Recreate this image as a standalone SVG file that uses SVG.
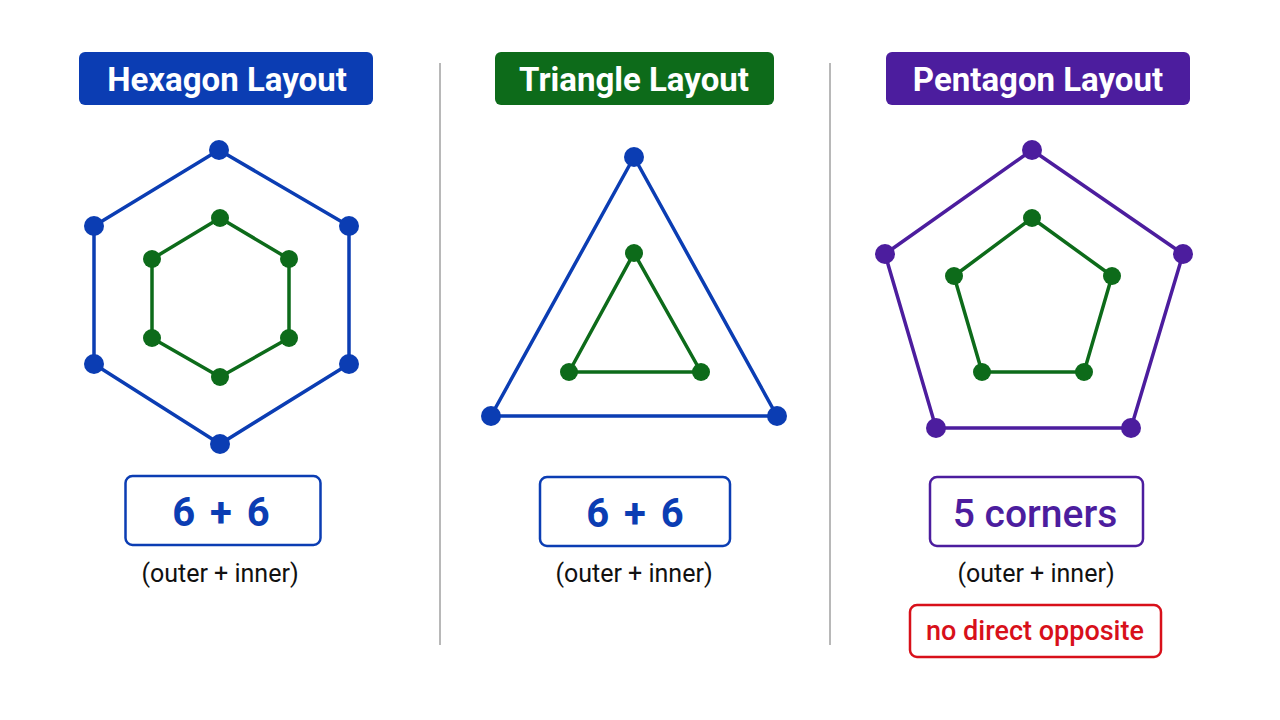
<svg xmlns="http://www.w3.org/2000/svg" width="1280" height="720" viewBox="0 0 1280 720">
<style>
.title{font-family:Roboto,"Liberation Sans",sans-serif;font-weight:700;font-size:33px;fill:#fff;text-anchor:middle}
.val{font-family:Roboto,"Liberation Sans",sans-serif;font-weight:700;font-size:40px;text-anchor:middle}
.sub{font-family:Roboto,"Liberation Sans",sans-serif;font-size:25px;fill:#111;text-anchor:middle}
.blue{stroke:#0b3db3}
.green{stroke:#0d6b1a}
.purple{stroke:#4c1d9e}
.edge{fill:none;stroke-width:3.5;stroke-linejoin:round}
.nb{fill:#0b3db3}
.ng{fill:#0d6b1a}
.np{fill:#4c1d9e}
.div{stroke:#b8b8b8;stroke-width:2}
</style>
<rect width="1280" height="720" fill="#fff"/>
<g id="dividers">
<line class="div" x1="440" y1="63" x2="440" y2="645"/>
<line class="div" x1="830" y1="63" x2="830" y2="645"/>
</g>
<g id="titles">
<g id="title-hexagon"><rect x="79" y="52" width="294" height="53" rx="6" fill="#0b3db3"/><text class="title" x="227" y="91">Hexagon Layout</text></g>
<g id="title-triangle"><rect x="495" y="52" width="279" height="53" rx="6" fill="#0d6b1a"/><text class="title" x="634" y="91">Triangle Layout</text></g>
<g id="title-pentagon"><rect x="886" y="52" width="304" height="53" rx="6" fill="#4c1d9e"/><text class="title" x="1038" y="91">Pentagon Layout</text></g>
</g>
<g id="connectors">
<polygon class="edge blue" points="219,150 349,226 349,364 220,444 94,364 94,226"/>
<polygon class="edge green" points="220,218 289,259 289,338 220,377 152,338 152,259"/>
<polygon class="edge blue" points="634,157 777,416 491,416"/>
<polygon class="edge green" points="634,253 701,372 569,372"/>
<polygon class="edge purple" points="1032,150 1183,254 1131,428 936,428 885,254"/>
<polygon class="edge green" points="1032,218 1112,276 1084,372 982,372 954,276"/>
</g>
<g id="hexagon-outer-nodes" class="nb">
<circle cx="219" cy="150" r="10"/><circle cx="349" cy="226" r="10"/><circle cx="349" cy="364" r="10"/><circle cx="220" cy="444" r="10"/><circle cx="94" cy="364" r="10"/><circle cx="94" cy="226" r="10"/>
</g>
<g id="hexagon-inner-nodes" class="ng">
<circle cx="220" cy="218" r="9"/><circle cx="289" cy="259" r="9"/><circle cx="289" cy="338" r="9"/><circle cx="220" cy="377" r="9"/><circle cx="152" cy="338" r="9"/><circle cx="152" cy="259" r="9"/>
</g>
<g id="triangle-outer-nodes" class="nb">
<circle cx="634" cy="157" r="10"/><circle cx="777" cy="416" r="10"/><circle cx="491" cy="416" r="10"/>
</g>
<g id="triangle-inner-nodes" class="ng">
<circle cx="634" cy="253" r="9"/><circle cx="701" cy="372" r="9"/><circle cx="569" cy="372" r="9"/>
</g>
<g id="pentagon-outer-nodes" class="np">
<circle cx="1032" cy="150" r="10"/><circle cx="1183" cy="254" r="10"/><circle cx="1131" cy="428" r="10"/><circle cx="936" cy="428" r="10"/><circle cx="885" cy="254" r="10"/>
</g>
<g id="pentagon-inner-nodes" class="ng">
<circle cx="1032" cy="218" r="9"/><circle cx="1112" cy="276" r="9"/><circle cx="1084" cy="372" r="9"/><circle cx="982" cy="372" r="9"/><circle cx="954" cy="276" r="9"/>
</g>
<g id="value-hexagon">
<rect x="125.5" y="476" width="195" height="69" rx="7" fill="#fff" stroke="#0b3db3" stroke-width="2.5"/>
<text class="val" x="221" y="526" fill="#0b3db3" word-spacing="5">6 + 6</text>
<text class="sub" x="220" y="582">(outer + inner)</text>
</g>
<g id="value-triangle">
<rect x="540" y="477" width="190" height="69" rx="7" fill="#fff" stroke="#0b3db3" stroke-width="2.5"/>
<text class="val" x="635" y="527" fill="#0b3db3" word-spacing="5">6 + 6</text>
<text class="sub" x="634" y="582">(outer + inner)</text>
</g>
<g id="value-pentagon">
<rect x="930" y="477" width="213" height="69" rx="7" fill="#fff" stroke="#4c1d9e" stroke-width="2.5"/>
<text class="val" x="1035" y="527" fill="#4c1d9e" style="font-weight:500;font-size:39px">5 corners</text>
<text class="sub" x="1036" y="582">(outer + inner)</text>
</g>
<g id="note-pentagon">
<rect x="910" y="605" width="251" height="52" rx="7" fill="#fff" stroke="#d8101a" stroke-width="2.5"/>
<text x="1035" y="640" font-family="Roboto,'Liberation Sans',sans-serif" font-weight="500" font-size="27" fill="#d8101a" text-anchor="middle">no direct opposite</text>
</g>
</svg>
